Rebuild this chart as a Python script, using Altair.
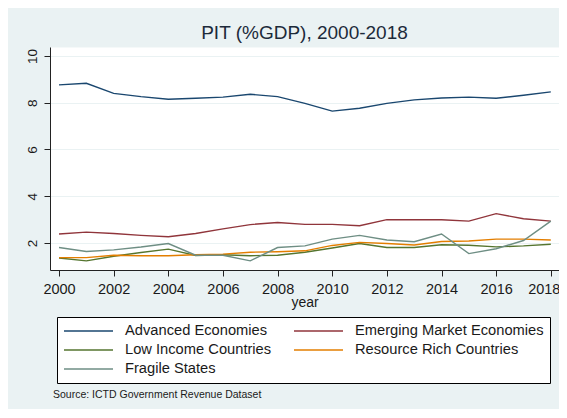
import altair as alt
import pandas as pd

years = list(range(2000, 2019))

advanced = [8.76, 8.83, 8.40, 8.26, 8.15, 8.19, 8.24, 8.36, 8.26, 7.97, 7.64,
            7.76, 7.97, 8.12, 8.20, 8.24, 8.19, 8.32, 8.46]
emerging = [2.39, 2.47, 2.41, 2.33, 2.27, 2.41, 2.61, 2.79, 2.88, 2.80, 2.80,
            2.74, 3.00, 3.00, 3.00, 2.94, 3.26, 3.04, 2.94]
low_income = [1.36, 1.24, 1.44, 1.60, 1.74, 1.47, 1.50, 1.46, 1.48, 1.61, 1.79,
              1.98, 1.81, 1.81, 1.93, 1.91, 1.84, 1.88, 1.95]
resource_rich = [1.38, 1.38, 1.48, 1.46, 1.46, 1.50, 1.53, 1.61, 1.63, 1.67, 1.90,
                 2.03, 1.98, 1.92, 2.07, 2.09, 2.17, 2.17, 2.13]
fragile = [1.81, 1.64, 1.71, 1.83, 1.98, 1.48, 1.48, 1.24, 1.81, 1.88, 2.17,
           2.33, 2.13, 2.06, 2.39, 1.55, 1.76, 2.11, 2.94]

series_names = ["Advanced Economies", "Emerging Market Economies",
                "Low Income Countries", "Resource Rich Countries", "Fragile States"]
series_colors = ["#1A476F", "#90353B", "#55752F", "#E37E00", "#6E8E84"]
series_values = [advanced, emerging, low_income, resource_rich, fragile]

x_ticks = list(range(2000, 2019, 2))
y_ticks = [2, 4, 6, 8, 10]

title_text = "PIT (%GDP), 2000-2018"
source_text = "Source: ICTD Government Revenue Dataset"

rows = []
for name, vals in zip(series_names, series_values):
    for yr, v in zip(years, vals):
        rows.append({"year": yr, "value": v, "series": name})
df = pd.DataFrame(rows)

FONT = "Liberation Sans"
TXT = "#1a1a1a"

lines = alt.Chart(df).mark_line(strokeWidth=1.4).encode(
    x=alt.X("year:Q",
            scale=alt.Scale(domain=[1999.67, 2018.3], nice=False, zero=False),
            axis=alt.Axis(values=x_ticks, format="d", title="year", grid=False,
                          tickSize=6, labelPadding=6, titlePadding=0,
                          labelFontSize=14.5, titleFontSize=14,
                          labelOffset={"expr": "datum.value == 2018 ? -7 : 0"},
                          titleFontWeight="normal")),
    y=alt.Y("value:Q",
            scale=alt.Scale(domain=[0.85, 10.38], nice=False, zero=False),
            axis=alt.Axis(values=y_ticks, title=None, grid=True,
                          tickSize=6, labelPadding=5, labelAngle=270,
                          labelAlign="center", labelBaseline="bottom",
                          labelFontSize=13.5)),
    color=alt.Color("series:N",
                    scale=alt.Scale(domain=series_names, range=series_colors),
                    sort=series_names,
                    title=None,
                    legend=alt.Legend(orient="none", legendX=7, legendY=270,
                                      columns=2, direction="horizontal",
                                      symbolType="stroke", symbolSize=2401,
                                      symbolStrokeWidth=1.4, clipHeight=16,
                                      labelOffset=11, columnPadding=21,
                                      rowPadding=3, padding=6,
                                      labelFontSize=14.7, labelFont=FONT,
                                      labelColor=TXT, labelLimit=400,
                                      strokeColor="#000000", fillColor="#ffffff")),
)

src_df = pd.DataFrame({"t": [source_text]})
source = alt.Chart(src_df).mark_text(
    align="left", baseline="middle", fontSize=10.5, font=FONT, color=TXT
).encode(
    text="t:N",
    x=alt.value(3),
    y=alt.value(348),
)

chart = alt.layer(lines, source).properties(
    width=509,
    height=223,
    title=alt.Title(title_text, fontSize=19, font=FONT, fontWeight="normal",
                    color="#1c2a3a", anchor="middle", frame="group", offset=4),
    autosize=alt.AutoSizeParams(type="none"),
    padding={"left": 42, "top": 39, "right": 0, "bottom": 139},
    background="#EAF2F3",
).configure_view(
    fill="#ffffff", strokeOpacity=0
).configure_axis(
    labelFont=FONT, titleFont=FONT, labelColor=TXT, titleColor=TXT,
    domainColor="#222222", tickColor="#222222", domainWidth=1, tickWidth=1,
    gridColor="#EAF2F3", gridWidth=1,
)

chart.save("out.html", embed_options={"renderer": "svg", "actions": False})
